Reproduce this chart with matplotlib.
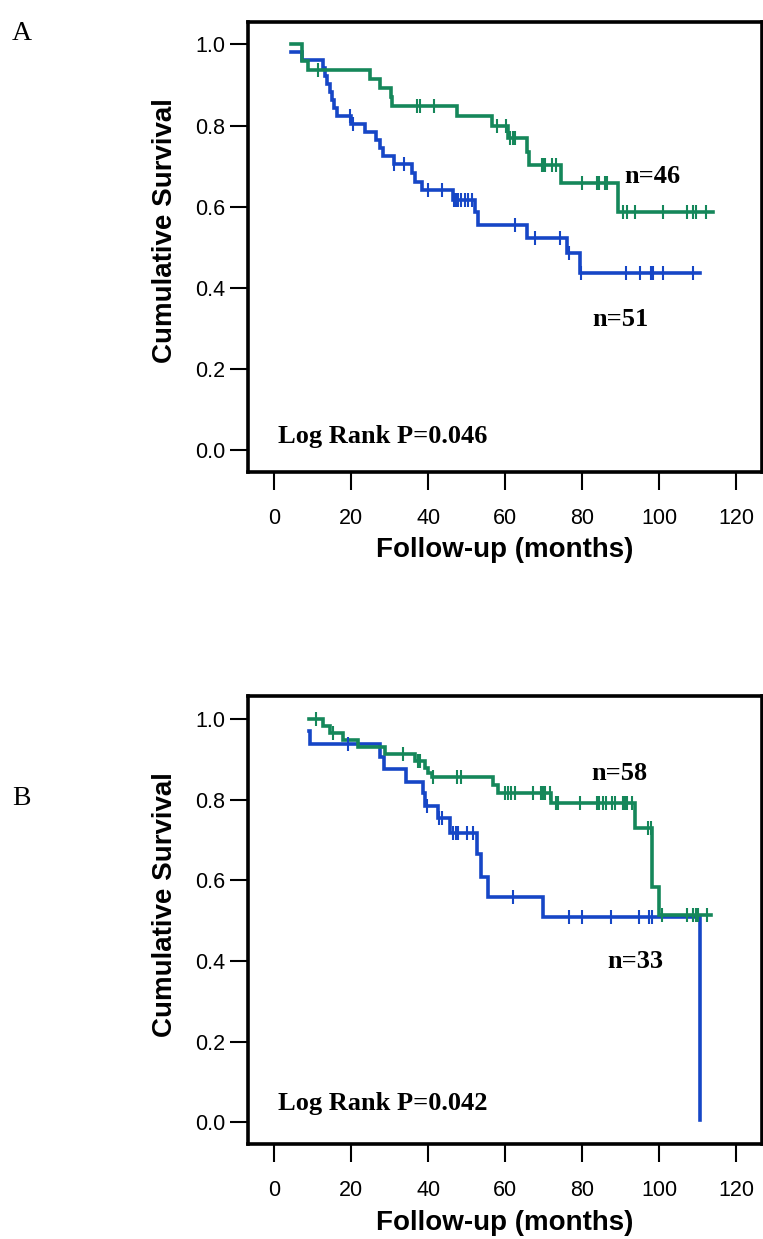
import matplotlib
matplotlib.use('Agg')
import matplotlib.pyplot as plt
import numpy as np

# ---------------- data ----------------
# Panel A
a_green_t = [4.3, 7.3, 8.7, 24.8, 27.4, 30.3, 30.7, 47.4, 56.6, 60.8, 65.7, 66.2, 74.6, 89.4, 113.9]
a_green_s = [1.0, 0.959, 0.937, 0.914, 0.893, 0.871, 0.848, 0.823, 0.798, 0.770, 0.735, 0.703, 0.659, 0.588, 0.588]
a_green_c = [11.3, 37.2, 37.8, 41.6, 57.9, 60.3, 61.3, 61.9, 62.6, 69.5, 69.9, 70.3, 72.1, 73.2,
             79.8, 83.9, 84.4, 85.9, 86.5, 90.6, 91.7, 93.7, 100.9, 107.1, 108.8, 109.5, 112.1]

a_blue_t = [4.3, 7.1, 12.6, 13.2, 13.8, 14.4, 15.0, 15.6, 16.2, 20.0, 23.6, 26.4, 27.5, 28.2, 31.0,
            35.7, 36.5, 38.3, 46.3, 52.1, 53.0, 65.6, 76.1, 79.4, 110.6]
a_blue_s = [0.981, 0.961, 0.941, 0.922, 0.902, 0.882, 0.863, 0.843, 0.824, 0.805, 0.785, 0.764, 0.744,
            0.725, 0.705, 0.684, 0.662, 0.641, 0.617, 0.588, 0.555, 0.522, 0.485, 0.437, 0.437]
a_blue_c = [19.7, 20.5, 31.2, 33.8, 40.0, 43.5, 46.8, 47.3, 47.8, 48.6, 49.5, 50.4, 51.4,
            62.5, 67.7, 74.2, 76.5, 79.6, 91.4, 95.0, 97.8, 98.3, 100.9, 108.8]

# Panel B
b_green_t = [9.1, 12.7, 14.6, 17.9, 21.8, 28.8, 36.5, 39.1, 40.0, 40.9, 56.9, 58.2, 71.8, 93.7, 98.0, 99.9, 113.5]
b_green_s = [1.0, 0.983, 0.966, 0.948, 0.931, 0.913, 0.896, 0.879, 0.866, 0.856, 0.837, 0.816, 0.792,
             0.730, 0.585, 0.514, 0.514]
b_green_c = [10.8, 15.2, 33.5, 37.4, 37.8, 41.1, 47.4, 48.4, 60.0, 60.8, 61.6, 62.5, 67.3, 69.2, 69.8,
             70.3, 71.5, 73.2, 73.8, 79.4, 83.7, 84.4, 85.5, 86.2, 87.8, 88.5, 90.5, 91.0, 91.5, 92.8,
             97.1, 97.8, 100.6, 107.1, 108.8, 109.5, 110.1, 112.3]

b_blue_t = [9.1, 9.25, 27.5, 28.5, 34.2, 38.7, 39.1, 42.6, 45.6, 52.7, 53.6, 55.6, 69.7, 110.6]
b_blue_s = [0.970, 0.939, 0.907, 0.878, 0.845, 0.816, 0.785, 0.754, 0.717, 0.666, 0.609, 0.560, 0.510, 0.006]
b_blue_c = [19.2, 39.6, 42.9, 43.5, 46.5, 47.2, 47.8, 50.0, 51.7, 62.1, 76.6, 79.8, 87.4, 94.8, 97.4, 98.0]

x_ticks = [0, 20, 40, 60, 80, 100, 120]
y_ticks = [0.0, 0.2, 0.4, 0.6, 0.8, 1.0]
y_ticklabels = ['0.0', '0.2', '0.4', '0.6', '0.8', '1.0']

panels = [
    dict(letter='A', green=(a_green_t, a_green_s, a_green_c), blue=(a_blue_t, a_blue_s, a_blue_c),
         p='Log Rank P=0.046', n_green='n=46', n_blue='n=51'),
    dict(letter='B', green=(b_green_t, b_green_s, b_green_c), blue=(b_blue_t, b_blue_s, b_blue_c),
         p='Log Rank P=0.042', n_green='n=58', n_blue='n=33'),
]

# ---------------- style / layout ----------------
GREEN = '#15875a'
BLUE = '#1646c6'
W, H = 763, 1239
fig = plt.figure(figsize=(W / 100, H / 100), dpi=100)
fig.patch.set_facecolor('white')

SANS = ['Liberation Sans', 'DejaVu Sans']
SERIF = ['Liberation Serif', 'DejaVu Serif']

# axes boxes in pixels: left, top, right, bottom
boxes = [(247.7, 21.7, 761.7, 471.7), (247.7, 696.0, 761.7, 1144.3)]
ylims = [(-0.053, 1.056), (-0.055, 1.058)]
text_pos = [
    dict(p=(1.0, 0.018), g=(90.8, 0.658), b=(82.5, 0.306)),
    dict(p=(1.0, 0.030), g=(82.4, 0.849), b=(86.6, 0.383)),
]
letter_pos = [(12, 40.5), (12, 805)]


def km(ax, data, color):
    t, s, c = data
    t = np.asarray(t)
    s = np.asarray(s)
    ax.plot(t, s, drawstyle='steps-post', color=color, lw=2.6, solid_joinstyle='miter', zorder=3)
    c = np.asarray(c)
    idx = np.searchsorted(t, c, side='right') - 1
    ax.plot(c, s[idx], ls='none', marker='|', ms=10.5, mew=1.5, color=color, zorder=4)


for i, pan in enumerate(panels):
    l, t, r, b = boxes[i]
    ax = fig.add_axes([l / W, 1 - b / H, (r - l) / W, (b - t) / H])
    km(ax, pan['blue'], BLUE)
    km(ax, pan['green'], GREEN)
    ax.set_xlim(-6.9, 126.6)
    ax.set_ylim(*ylims[i])
    ax.set_xticks(x_ticks)
    ax.set_xticklabels([str(v) for v in x_ticks], family=SANS)
    ax.set_yticks(y_ticks)
    ax.set_yticklabels(y_ticklabels, family=SANS)
    ax.tick_params(direction='out', length=13, width=1.5, labelsize=15.5, colors='black')
    ax.tick_params(axis='y', pad=3)
    ax.tick_params(axis='x', pad=13)
    for sp in ax.spines.values():
        sp.set_linewidth(2.6)
        sp.set_color('black')
    ax.set_ylabel('Cumulative Survival', fontsize=20, fontweight='bold', family=SANS)
    ax.yaxis.set_label_coords(-0.16, 0.535)
    ax.yaxis.label.set_va('center')
    ax.set_xlabel('Follow-up (months)', fontsize=20, fontweight='bold', family=SANS)
    ax.xaxis.set_label_coords(0.5, -0.175)
    ax.xaxis.label.set_va('center')

    tp = text_pos[i]
    kw = dict(fontsize=19, fontweight='bold', family=SERIF, va='baseline', ha='left', zorder=5)
    ax.text(*tp['p'], pan['p'], **kw)
    ax.text(*tp['g'], pan['n_green'], **kw)
    ax.text(*tp['b'], pan['n_blue'], **kw)

    lx, ly = letter_pos[i]
    fig.text(lx / W, 1 - ly / H, pan['letter'], fontsize=20, family=SERIF, ha='left', va='baseline')

fig.savefig('out.png', dpi=100, facecolor='white')
